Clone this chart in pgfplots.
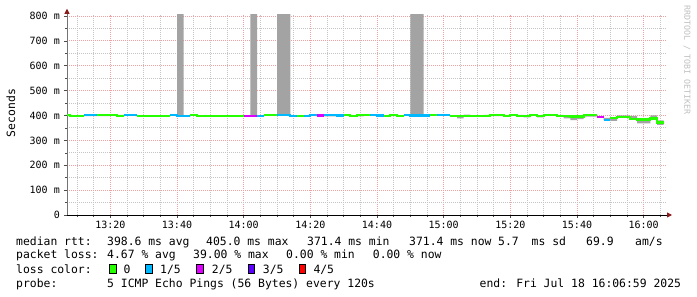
\documentclass[border=0pt]{standalone}
\usepackage{fontspec}
\usepackage{pgfplots}
\usepackage{pgfplotstable}
\pgfplotsset{compat=1.18}
\usepgfplotslibrary{fillbetween}
\usetikzlibrary{arrows.meta}
\newfontfamily\rrd{DejaVu Sans Mono}
\newcommand\legfont{\rrd\fontsize{11.4}{14}\selectfont}
\newcommand\tickfont{\rrd\fontsize{10}{12}\selectfont}
\definecolor{lzero}{HTML}{26FF00}
\definecolor{lone}{HTML}{00B8FF}
\definecolor{ltwo}{HTML}{DD00FF}
\definecolor{lthree}{HTML}{5E00FF}
\definecolor{lfour}{HTML}{FF0000}
\definecolor{smokec}{HTML}{A3A3A3}
\definecolor{mgridc}{HTML}{F0A0A0}
\definecolor{gridc}{HTML}{C4C4C4}
\definecolor{arrowc}{HTML}{8B1A1A}

\pgfplotstableread{
t lo hi
6 402 402
8 395 397
10 395 397
12 397 402
14 397 402
16 397 402
18 397 402
20 402 402
22 398 402
24 398 402
26 398 402
28 397 397
30 398 398
32 397 400
34 397 400
36 399 399
38 400 402
40 395 810
42 394 398
44 402 402
46 397 397
48 397 397
50 397 397
52 397 397
54 397 397
56 397 397
58 397 397
60 399 399
62 399 810
64 397 397
66 398 402
68 398 402
70 402 810
72 402 810
74 398 398
76 399 399
78 398 401
80 402 402
82 400 400
84 396 402
86 396 402
88 400 400
90 400 402
92 397 400
94 396 402
96 398 402
98 402 402
100 400 400
102 399 399
104 397 401
106 399 399
108 401 401
110 400 810
112 400 810
114 400 400
116 398 402
118 401 401
120 401 401
122 398 398
124 388 398
126 398 404
128 399 399
130 399 399
132 399 402
134 397 401
136 397 401
138 399 399
140 401 401
142 398 402
144 392 398
146 401 401
148 392 399
150 401 401
152 401 401
154 398 402
156 388 398
158 381 396
160 385 396
162 395 402
164 395 402
166 393 393
168 382 390
170 378 391
172 395 400
174 395 400
176 387 397
178 368 384
180 368 384
182 388 400
184 362 380
186 362 380
}\smoke

\begin{document}
\begin{tikzpicture}
\begin{axis}[
  at={(67pt,82pt)}, anchor=south west,
  scale only axis, width=600pt, height=200.24pt,
  xmin=7, xmax=187, ymin=0, ymax=805,
  axis lines=left,
  x axis line style={black, line width=0.9pt, shorten >=-5pt, -{Triangle[length=5pt,width=5pt,color=arrowc]}},
  y axis line style={black!55, line width=0.8pt, shorten >=-6pt, -{Triangle[length=5pt,width=5pt,color=arrowc]}},
  xtick={20,40,60,80,100,120,140,160,180},
  xticklabels={13:20,13:40,14:00,14:20,14:40,15:00,15:20,15:40,16:00},
  minor xtick={10,15,25,30,35,45,50,55,65,70,75,85,90,95,105,110,115,125,130,135,145,150,155,165,170,175,185},
  ytick={0,100,200,300,400,500,600,700,800},
  yticklabels={0,100 m,200 m,300 m,400 m,500 m,600 m,700 m,800 m},
  minor ytick={50,150,250,350,450,550,650,750},
  grid=both,
  major grid style={mgridc, line width=0.9pt, dash pattern=on 1pt off 1pt},
  minor grid style={gridc, line width=0.9pt, dash pattern=on 1pt off 1pt},
  tick align=outside, major tick length=3pt, minor tick length=2pt,
  tick style={black!70, line width=0.6pt},
  xticklabel style={font=\tickfont, anchor=north, inner sep=0pt, yshift=-3pt},
  yticklabel style={font=\tickfont, anchor=east, inner sep=0pt, xshift=-4pt},
  unbounded coords=jump,
]
\addplot[draw=none, name path=hi, const plot, forget plot] table[x=t,y=hi]{\smoke};
\addplot[draw=none, name path=lo, const plot, forget plot] table[x=t,y=lo]{\smoke};
\addplot[smokec, draw=none] fill between[of=hi and lo];

% loss 0 (green)
\addplot[lzero, line width=2.2pt] coordinates {
(6,402)(8,402)(8,397)(12,397)(12,nan)
(16,402)(22,402)(22,398)(24,398)(24,nan)
(28,397)(30,397)(30,398.5)(32,398.5)(32,397)(36,397)(36,399)(38,399)(38,nan)
(44,402)(46,402)(46,397)(60,397)(60,nan)
(66,402)(70,402)(70,nan)
(76,399.5)(78,399.5)(78,nan)
(90,402)(92,402)(92,397)(94,397)(94,402)(98,402)(98,nan)
(102,399)(104,399)(104,401)(106,401)(106,399)(108,399)(108,nan)
(116,402)(118,402)(118,nan)
(122,398.5)(128,398.5)(128,399)(134,399)(134,401.5)(138,401.5)(138,399)(140,399)(140,401)(142,401)(142,398)(146,398)(146,401)(148,401)(148,399)(150,399)(150,401)(154,401)(154,398)(156,398)(156,397)(158,397)(158,396)(162,396)(162,402)(166,402)(166,nan)
(170,391)(172,391)(172,395)(176,395)(176,387)(178,387)(178,384)(182,384)(182,388)(184,388)(184,372)(186,372)
};
% loss 1/5 (blue)
\addplot[lone, line width=2.2pt] coordinates {
(12,402)(16,402)(16,nan)
(24,402)(28,402)(28,nan)
(38,402)(40,402)(40,398)(44,398)(44,nan)
(64,397)(66,397)(66,nan)
(70,402)(74,402)(74,398)(76,398)(76,nan)
(78,398)(80,398)(80,402)(82,402)(82,nan)
(84,402)(88,402)(88,400)(90,400)(90,nan)
(98,402)(100,402)(100,400)(102,400)(102,nan)
(108,401)(110,401)(110,400)(116,400)(116,nan)
(118,401)(122,401)(122,nan)
(168,382)(170,382)
};
% loss 2/5 (magenta)
\addplot[ltwo, line width=2.2pt] coordinates {
(60,399.5)(64,399.5)(64,nan)
(82,400)(84,400)(84,nan)
(166,393)(168,393)
};
\end{axis}

% axis title and watermark
\node[rotate=90, font=\rrd\fontsize{11.4}{13}\selectfont, inner sep=0pt] at (11pt,184pt) {Seconds};
\node[rotate=-90, font=\rrd\fontsize{8.3}{10}\selectfont, text=black!25, inner sep=0pt] at (687pt,237pt) {RRDTOOL / TOBI OETIKER};

% legend block
\begin{scope}[every node/.style={anchor=base west, inner sep=0pt, font=\legfont}]
\node at (16pt,51.5pt) {median rtt:};
\node at (107pt,51.5pt) {398.6 ms avg};
\node at (206pt,51.5pt) {405.0 ms max};
\node at (307pt,51.5pt) {371.4 ms min};
\node at (409pt,51.5pt) {371.4 ms now};
\node at (498pt,51.5pt) {5.7};
\node at (531.5pt,51.5pt) {ms sd};
\node at (586pt,51.5pt) {69.9};
\node at (635pt,51.5pt) {am/s};

\node at (16pt,38pt) {packet loss:};
\node at (107pt,38pt) {4.67 \% avg};
\node at (193pt,38pt) {39.00 \% max};
\node at (286pt,38pt) {0.00 \% min};
\node at (372.7pt,38pt) {0.00 \% now};

\node at (16pt,23.5pt) {loss color:};
\node at (123.3pt,23.5pt) {0};
\node at (160pt,23.5pt) {1/5};
\node at (211.7pt,23.5pt) {2/5};
\node at (262.7pt,23.5pt) {3/5};
\node at (313.3pt,23.5pt) {4/5};

\node at (16pt,9.5pt) {probe:};
\node at (107pt,9.5pt) {5 ICMP Echo Pings (56 Bytes) every 120s};
\node at (479.5pt,9.5pt) {end: Fri Jul 18 16:06:59 2025};
\end{scope}
\draw[black, line width=0.7pt, fill=lzero] (109.3pt,24pt) rectangle (116pt,32.7pt);
\draw[black, line width=0.7pt, fill=lone] (145.5pt,24pt) rectangle (152.2pt,32.7pt);
\draw[black, line width=0.7pt, fill=ltwo] (196.8pt,24pt) rectangle (203.5pt,32.7pt);
\draw[black, line width=0.7pt, fill=lthree] (247.9pt,24pt) rectangle (254.6pt,32.7pt);
\draw[black, line width=0.7pt, fill=lfour] (298.9pt,24pt) rectangle (305.6pt,32.7pt);
\path (0pt,0pt) rectangle (697pt,297pt);
\end{tikzpicture}
\end{document}
